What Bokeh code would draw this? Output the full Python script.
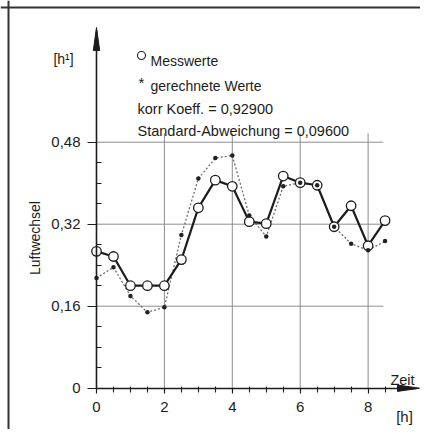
import math
from bokeh.plotting import figure
from bokeh.models import LinearAxis, FixedTicker, Range1d, Label, Span
from bokeh.embed import file_html
from bokeh.resources import INLINE

# ---- data ----
zeit = [0, 0.5, 1, 1.5, 2, 2.5, 3, 3.5, 4, 4.5, 5, 5.5, 6, 6.5, 7, 7.5, 8, 8.5]
messwerte = [0.267, 0.257, 0.200, 0.200, 0.200, 0.251, 0.352, 0.406, 0.394,
             0.325, 0.321, 0.414, 0.401, 0.396, 0.315, 0.356, 0.278, 0.327]
gerechnet = [0.215, 0.236, 0.180, 0.148, 0.158, 0.299, 0.409, 0.449, 0.454,
             0.337, 0.296, 0.394, 0.401, 0.396, 0.315, 0.282, 0.269, 0.287]
x_ticks = [0, 2, 4, 6, 8]
x_tick_labels = ["0", "2", "4", "6", "8"]
x_minor = [0.5, 1, 1.5, 2.5, 3, 3.5, 4.5, 5, 5.5, 6.5, 7, 7.5, 8.5]
y_ticks = [0, 0.16, 0.32, 0.48]
y_tick_labels = ["0", "0,16", "0,32", "0,48"]
y_minor = [0.04, 0.08, 0.12, 0.20, 0.24, 0.28, 0.36, 0.40, 0.44]
legend_lines = ["Messwerte", "gerechnete Werte", "korr Koeff. = 0,92900",
                "Standard-Abweichung = 0,09600"]
y_unit = "[h¹]"
y_title = "Luftwechsel"
x_title = "Zeit"
x_unit = "[h]"

# ---- layout (pixel scale) ----
W, H = 420, 429
X0PX, Y0PX = 96, 387.7              # position of data origin inside the figure
SX, SY = 33.95, 512.5               # pixels per unit
x_start, x_end = -X0PX / SX, (W - X0PX) / SX
y_start, y_end = -(H - Y0PX) / SY, Y0PX / SY

def X(px):   # figure px -> data x
    return (px - X0PX) / SX

def Y(py):   # figure px -> data y
    return (Y0PX - py) / SY

FONT = "Liberation Sans"
INK = "#1c1c1c"

p = figure(width=W, height=H, output_backend="svg", toolbar_location=None,
           x_range=Range1d(x_start, x_end), y_range=Range1d(y_start, y_end),
           x_axis_location=None, y_axis_location=None, min_border=0)
p.outline_line_color = None
p.xgrid.visible = False
p.ygrid.visible = False
p.background_fill_color = "white"

# grid lines (limited extent, like the drawing)
grid_x_end = 8.45
grid_y_end = 0.497
p.segment(x0=[0] * 3, y0=y_ticks[1:], x1=[grid_x_end] * 3, y1=y_ticks[1:],
          line_color="#8c8c8c", line_width=1)
p.segment(x0=x_ticks[1:], y0=[0] * 4, x1=x_ticks[1:], y1=[grid_y_end] * 4,
          line_color="#8c8c8c", line_width=1)

# axes
xaxis = LinearAxis(fixed_location=0, bounds=(0, X(416)),
                   ticker=FixedTicker(ticks=x_ticks, minor_ticks=x_minor))
xaxis.major_label_overrides = {t: l for t, l in zip(x_ticks, x_tick_labels)}
yaxis = LinearAxis(fixed_location=0, bounds=(0, Y(30)),
                   ticker=FixedTicker(ticks=y_ticks, minor_ticks=y_minor))
yaxis.major_label_overrides = {t: l for t, l in zip(y_ticks, y_tick_labels)}
for ax in (xaxis, yaxis):
    ax.axis_line_color = INK
    ax.axis_line_width = 1.6
    ax.major_tick_line_color = INK
    ax.minor_tick_line_color = INK
    ax.major_tick_line_width = 1.2
    ax.minor_tick_line_width = 1.1
    ax.major_label_text_font = FONT
    ax.major_label_text_font_size = "15px"
    ax.major_label_text_color = INK
xaxis.major_tick_out = 5
xaxis.major_tick_in = 0
xaxis.minor_tick_out = 4
xaxis.minor_tick_in = 2
xaxis.major_label_standoff = 9
yaxis.major_tick_out = 9
yaxis.major_tick_in = 0
yaxis.minor_tick_out = 0
yaxis.minor_tick_in = 5
yaxis.major_label_standoff = 7
p.add_layout(xaxis, "below")
p.add_layout(yaxis, "left")

# arrow heads
ah_len_x, ah_half_x = 22 / SX, 3.2 / SY
tip_x = X(419)
p.patch([tip_x, tip_x - ah_len_x, tip_x - ah_len_x],
        [0, ah_half_x, -ah_half_x], color=INK)
ah_len_y, ah_half_y = 23 / SY, 3.2 / SX
tip_y = Y(27)
p.patch([0, ah_half_y, -ah_half_y], [tip_y, tip_y - ah_len_y, tip_y - ah_len_y],
        color=INK)

# series
p.line(zeit, gerechnet, line_color="#6e6e6e", line_width=1.3, line_dash="2 2")
p.line(zeit, messwerte, line_color=INK, line_width=2.2)
p.scatter(zeit, messwerte, size=9.5, marker="circle", fill_color="white",
          line_color=INK, line_width=1.3)
p.scatter(zeit, gerechnet, size=4.5, marker="circle", fill_color="#222222",
          line_color=None)

# legend symbol
p.scatter([X(141)], [Y(55)], size=8, marker="circle", fill_color="white",
          line_color=INK, line_width=1.1)

# outer frame
p.add_layout(Span(location=X(8), dimension="height", line_color="#333333", line_width=2))
p.add_layout(Span(location=Y(7), dimension="width", line_color="#333333", line_width=2))

def lab(x, y, text, size="14px", align="left", baseline="alphabetic", angle=0):
    p.add_layout(Label(x=x, y=y, text=text, text_font=FONT,
                       text_font_size=size, text_color=INK, text_align=align,
                       text_baseline=baseline, angle=angle))

# legend / statistics
lab(X(150), Y(60), legend_lines[0])
lab(X(141), Y(82), "*", size="15px", align="center")
lab(X(150), Y(85), legend_lines[1])
lab(X(137), Y(108), legend_lines[2], size="14.5px")
lab(X(137), Y(130), legend_lines[3], size="14.5px")

# axis titles
lab(X(63), Y(58), y_unit, size="14px", align="center")
lab(X(34), Y(237.5), y_title, size="14px", align="center", baseline="middle",
    angle=math.pi / 2)
lab(X(402), Y(379), x_title, size="14.5px", align="center")
lab(X(404), Y(416), x_unit, size="15px", align="center")

open("out.html", "w").write(file_html(p, INLINE))
